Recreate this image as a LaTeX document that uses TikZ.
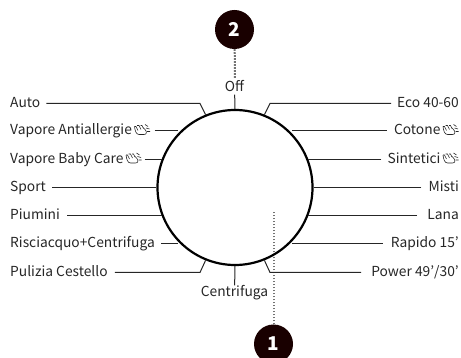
\documentclass[tikz,border=0pt]{standalone}
\usepackage{fontspec}
\setmainfont{Noto Sans CJK JP}
\usetikzlibrary{calc,positioning}

\tikzset{
  prog/.style={inner sep=0pt, text height=11pt, text depth=3pt, font=\fontsize{13.8}{16}\selectfont, text=black!85},
  lead/.style={line width=1pt, black!85},
  badge/.style={circle, fill=black!90!red, minimum size=39pt, inner sep=0pt, text=white, font=\bfseries\fontsize{19}{20}\selectfont},
  pointer/.style={line width=2pt, black!55, dash pattern=on 1.6pt off 1.4pt},
}

\newcommand{\steamicon}{\tikz[x=1pt,y=-1pt,baseline=-10.5pt,line width=0.6pt,black!85]{
  \draw (0.5,2) .. controls (1,6) and (2,10) .. (5,10) -- (10,10) .. controls (13,10) and (13,7) .. (11,5) -- (9,3);
  \draw (0.5,2) -- (2,2) -- (4,6) (3,1) -- (5,1) -- (7,5) (6.5,1) -- (8,1) -- (9.5,4);
  \draw (11,0) -- (14,2) (12,3.5) -- (15.5,4.5) (13,7) -- (16,7);
}}

\begin{document}
\begin{tikzpicture}[x=1pt,y=-1pt]
\useasboundingbox (0,0) rectangle (461,358);

\coordinate (center) at (235,187.5);

% dotted pointers go under the dial
\node[badge] (one) at (273.5,344) {1};
\node[badge] (two) at (234.5,29.5) {2};
\coordinate (oneend) at (273.5,211);
\coordinate (twoend) at (235,78);
\draw [pointer] (one) to (oneend);
\draw [pointer] (two) to (twoend);

\node[circle, draw, line width=2.2pt, minimum size=155pt, inner sep=0pt] (dial) at (center) {};

% left side
\node[prog, anchor=west] (auto) at (10,103.5) {Auto};
\node[prog, anchor=west] (antiallergie) at (10,131) {Vapore Antiallergie\,\steamicon};
\node[prog, anchor=west] (babycare) at (10,159.5) {Vapore Baby Care\,\steamicon};
\node[prog, anchor=west] (sport) at (10,187.5) {Sport};
\node[prog, anchor=west] (piumini) at (10,216) {Piumini};
\node[prog, anchor=west] (risciacquo) at (10,244) {Risciacquo+Centrifuga};
\node[prog, anchor=west] (pulizia) at (10,272.5) {Pulizia Cestello};

% right side
\node[prog, anchor=east] (eco) at (459,103.5) {Eco 40-60};
\node[prog, anchor=east] (cotone) at (459,131) {Cotone\,\steamicon};
\node[prog, anchor=east] (sintetici) at (459,159.5) {Sintetici\,\steamicon};
\node[prog, anchor=east] (misti) at (459,187.5) {Misti};
\node[prog, anchor=east] (lana) at (459,216) {Lana};
\node[prog, anchor=east] (rapido) at (459,244) {Rapido 15'};
\node[prog, anchor=east] (power) at (459,272.5) {Power 49'/30'};

\node[prog] (off) at (234.5,87.5) {Off};
\node[prog] (centrifuga) at (234.5,292.5) {Centrifuga};

% ends on the dial
\coordinate (autoknee) at (200,103.5);
\coordinate (puliziaknee) at (200,272.5);
\coordinate (ecoknee) at (270,103.5);
\coordinate (powerknee) at (270,272.5);

\draw [lead] ($(auto.east)+(6,0)$) to (autoknee) to (dial.112);
\draw [lead] ($(antiallergie.east)+(4,0)$) to (antiallergie.east -| dial.137);
\draw [lead] ($(babycare.east)+(2.5,0)$) to (babycare.east -| dial.158);
\draw [lead] ($(sport.east)+(6,0)$) to (sport.east -| dial.180);
\draw [lead] ($(piumini.east)+(7,0)$) to (piumini.east -| dial.201);
\draw [lead] ($(risciacquo.east)+(6,0)$) to (risciacquo.east -| dial.223);
\draw [lead] ($(pulizia.east)+(7,0)$) to (puliziaknee) to (dial.248);

\draw [lead] ($(eco.west)+(-6,0)$) to (ecoknee) to (dial.68);
\draw [lead] ($(cotone.west)+(-7,0)$) to (cotone.west -| dial.43);
\draw [lead] ($(sintetici.west)+(-6,0)$) to (sintetici.west -| dial.22);
\draw [lead] ($(misti.west)+(-7,0)$) to (misti.west -| dial.0);
\draw [lead] ($(lana.west)+(-10,0)$) to (lana.west -| dial.339);
\draw [lead] ($(rapido.west)+(-8,0)$) to (rapido.west -| dial.317);
\draw [lead] ($(power.west)+(-10,0)$) to (powerknee) to (dial.292);

\draw [lead] (off) to (dial.90);
\draw [lead] (centrifuga) to (dial.270);
\end{tikzpicture}
\end{document}
